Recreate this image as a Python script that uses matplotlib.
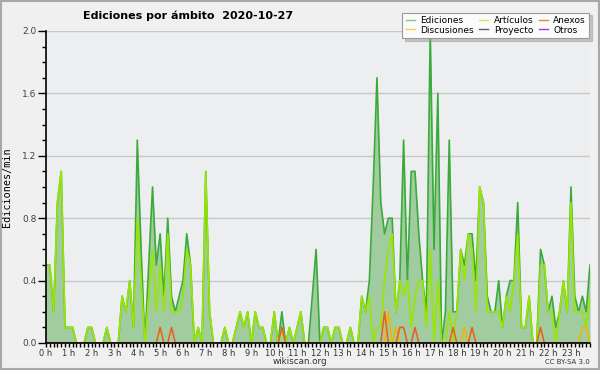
import matplotlib
matplotlib.use("Agg")
import matplotlib.pyplot as plt
from matplotlib.patches import Rectangle
from matplotlib.ticker import MultipleLocator, FixedLocator
import numpy as np

# ediciones por minuto, un valor cada 10 minutos (2 horas por fila)
ediciones = [
    0.5, 0.5, 0.2, 0.9, 1.1, 0.1, 0.1, 0.1, 0.0, 0.0, 0.0, 0.1,
    0.1, 0.0, 0.0, 0.0, 0.1, 0.0, 0.0, 0.0, 0.3, 0.2, 0.4, 0.1,
    1.3, 0.6, 0.0, 0.5, 1.0, 0.5, 0.7, 0.3, 0.8, 0.3, 0.2, 0.3,
    0.4, 0.7, 0.5, 0.0, 0.1, 0.0, 1.1, 0.2, 0.0, 0.0, 0.0, 0.1,
    0.0, 0.0, 0.1, 0.2, 0.1, 0.2, 0.0, 0.2, 0.1, 0.1, 0.0, 0.0,
    0.2, 0.0, 0.2, 0.0, 0.1, 0.0, 0.1, 0.2, 0.0, 0.0, 0.3, 0.6,
    0.0, 0.1, 0.1, 0.0, 0.1, 0.1, 0.0, 0.0, 0.1, 0.0, 0.0, 0.3,
    0.2, 0.4, 1.0, 1.7, 0.9, 0.7, 0.8, 0.8, 0.2, 0.4, 1.3, 0.4,
    1.1, 1.1, 0.7, 0.4, 0.2, 2.0, 0.6, 1.6, 0.0, 0.2, 1.3, 0.2,
    0.2, 0.6, 0.5, 0.7, 0.7, 0.4, 1.0, 0.9, 0.3, 0.2, 0.2, 0.4,
    0.1, 0.3, 0.4, 0.4, 0.9, 0.1, 0.1, 0.3, 0.0, 0.0, 0.6, 0.5,
    0.2, 0.3, 0.1, 0.2, 0.4, 0.2, 1.0, 0.3, 0.2, 0.3, 0.2, 0.5,
]
articulos = [
    0.5, 0.5, 0.2, 0.9, 1.1, 0.1, 0.1, 0.1, 0.0, 0.0, 0.0, 0.1,
    0.1, 0.0, 0.0, 0.0, 0.1, 0.0, 0.0, 0.0, 0.3, 0.2, 0.4, 0.1,
    0.8, 0.4, 0.0, 0.3, 0.6, 0.2, 0.5, 0.2, 0.7, 0.2, 0.2, 0.2,
    0.3, 0.6, 0.5, 0.0, 0.1, 0.0, 1.1, 0.2, 0.0, 0.0, 0.0, 0.1,
    0.0, 0.0, 0.1, 0.2, 0.1, 0.2, 0.0, 0.2, 0.1, 0.1, 0.0, 0.0,
    0.2, 0.0, 0.1, 0.0, 0.1, 0.0, 0.1, 0.2, 0.0, 0.0, 0.0, 0.0,
    0.0, 0.1, 0.1, 0.0, 0.1, 0.1, 0.0, 0.0, 0.1, 0.0, 0.0, 0.3,
    0.2, 0.3, 0.0, 0.1, 0.1, 0.4, 0.6, 0.7, 0.2, 0.4, 0.3, 0.4,
    0.1, 0.3, 0.4, 0.4, 0.1, 0.6, 0.0, 0.4, 0.0, 0.0, 0.2, 0.0,
    0.2, 0.6, 0.4, 0.7, 0.6, 0.2, 1.0, 0.9, 0.2, 0.2, 0.2, 0.2,
    0.1, 0.3, 0.2, 0.4, 0.7, 0.1, 0.1, 0.3, 0.0, 0.0, 0.5, 0.5,
    0.2, 0.2, 0.0, 0.2, 0.4, 0.2, 0.9, 0.2, 0.2, 0.2, 0.1, 0.3,
]
anexos = [
    0.0, 0.0, 0.0, 0.0, 0.0, 0.0, 0.0, 0.0, 0.0, 0.0, 0.0, 0.0,
    0.0, 0.0, 0.0, 0.0, 0.0, 0.0, 0.0, 0.0, 0.0, 0.0, 0.0, 0.0,
    0.0, 0.0, 0.0, 0.0, 0.0, 0.0, 0.1, 0.0, 0.0, 0.1, 0.0, 0.0,
    0.0, 0.0, 0.0, 0.0, 0.0, 0.0, 0.0, 0.0, 0.0, 0.0, 0.0, 0.0,
    0.0, 0.0, 0.0, 0.0, 0.0, 0.0, 0.0, 0.0, 0.0, 0.0, 0.0, 0.0,
    0.0, 0.0, 0.1, 0.0, 0.0, 0.0, 0.0, 0.0, 0.0, 0.0, 0.0, 0.0,
    0.0, 0.0, 0.0, 0.0, 0.0, 0.0, 0.0, 0.0, 0.0, 0.0, 0.0, 0.0,
    0.0, 0.0, 0.0, 0.0, 0.0, 0.2, 0.0, 0.0, 0.0, 0.1, 0.1, 0.0,
    0.0, 0.1, 0.0, 0.0, 0.0, 0.0, 0.0, 0.0, 0.0, 0.0, 0.0, 0.1,
    0.0, 0.0, 0.0, 0.0, 0.1, 0.0, 0.0, 0.0, 0.0, 0.0, 0.0, 0.0,
    0.0, 0.0, 0.0, 0.0, 0.0, 0.0, 0.0, 0.0, 0.0, 0.0, 0.1, 0.0,
    0.0, 0.0, 0.0, 0.0, 0.0, 0.0, 0.0, 0.0, 0.0, 0.0, 0.0, 0.0,
]
discusiones = [
    0.0, 0.0, 0.0, 0.0, 0.0, 0.0, 0.0, 0.0, 0.0, 0.0, 0.0, 0.0,
    0.0, 0.0, 0.0, 0.0, 0.0, 0.0, 0.0, 0.0, 0.0, 0.0, 0.0, 0.0,
    0.0, 0.0, 0.0, 0.0, 0.0, 0.0, 0.0, 0.0, 0.0, 0.0, 0.0, 0.0,
    0.0, 0.0, 0.0, 0.0, 0.0, 0.0, 0.0, 0.0, 0.0, 0.0, 0.0, 0.0,
    0.0, 0.0, 0.0, 0.0, 0.0, 0.0, 0.0, 0.0, 0.0, 0.0, 0.0, 0.0,
    0.0, 0.0, 0.0, 0.0, 0.0, 0.0, 0.0, 0.0, 0.0, 0.0, 0.0, 0.0,
    0.0, 0.0, 0.0, 0.0, 0.0, 0.0, 0.0, 0.0, 0.0, 0.0, 0.0, 0.0,
    0.0, 0.0, 0.0, 0.0, 0.0, 0.0, 0.2, 0.0, 0.1, 0.0, 0.0, 0.0,
    0.0, 0.0, 0.0, 0.0, 0.0, 0.0, 0.0, 0.0, 0.0, 0.0, 0.0, 0.0,
    0.0, 0.0, 0.1, 0.0, 0.0, 0.0, 0.0, 0.0, 0.0, 0.0, 0.0, 0.0,
    0.0, 0.0, 0.0, 0.0, 0.0, 0.0, 0.0, 0.0, 0.0, 0.0, 0.0, 0.0,
    0.0, 0.0, 0.0, 0.0, 0.0, 0.0, 0.0, 0.0, 0.0, 0.1, 0.1, 0.0,
]
proyecto = [0.0] * 144
otros = [0.0] * 144

horas = np.arange(len(ediciones)) / 6.0
etiquetas_x = [f"{h} h" for h in range(24)]

fig = plt.figure(figsize=(6, 3.7), dpi=100, facecolor="#f0f0f0")
fig.patches.append(Rectangle((0.0015, 0.0025), 0.997, 0.995, transform=fig.transFigure,
                             fill=False, edgecolor="#a8a8a8", linewidth=1.5))

ax = fig.add_axes([46/600, 27/370, 544/600, 312/370])
ax.set_facecolor("#eceef0")

ax.fill_between(horas, ediciones, color="#a0cca0", linewidth=0, zorder=1)
ax.plot(horas, ediciones, color="#3aaa3a", lw=1.2, zorder=2)
ax.plot(horas, articulos, color="#99e600", lw=1.2, zorder=2.1)
ax.plot(horas, proyecto, color="#606060", lw=1.0, zorder=2.1)
ax.plot(horas, otros, color="#9040e0", lw=1.0, zorder=2.1)
ax.plot(horas, discusiones, color="#f0b400", lw=1.1, zorder=2.2)
ax.plot(horas, anexos, color="#f05a1e", lw=1.1, zorder=2.3)

ax.set_xlim(0, horas[-1])
ax.set_ylim(0, 2.0)

ax.yaxis.set_major_locator(MultipleLocator(0.4))
ax.yaxis.set_minor_locator(MultipleLocator(0.1))
ax.set_yticklabels([f"{v:.1f}" for v in ax.get_yticks()])
ax.xaxis.set_major_locator(FixedLocator(range(24)))
ax.set_xticklabels(etiquetas_x)
ax.xaxis.set_minor_locator(MultipleLocator(1/6))

ax.tick_params(axis="y", which="major", length=6, width=1, direction="out",
               labelsize=6.5, labelcolor="#404040", pad=1)
ax.tick_params(axis="y", which="minor", length=3, width=1, direction="out")
ax.tick_params(axis="x", which="both", length=3, width=1, direction="out",
               labelsize=6, labelcolor="#333333", pad=1)

ax.grid(axis="y", which="major", color="#c8c8c8", lw=1)
ax.set_axisbelow(True)
for lado in ["top", "right"]:
    ax.spines[lado].set_visible(False)
ax.spines["left"].set_linewidth(1.2)
ax.spines["bottom"].set_linewidth(1.2)

ax.set_ylabel("Ediciones/min", fontsize=7.3, family="DejaVu Sans Mono", labelpad=7)

fig.text(188/600, 1 - 16/370, "Ediciones por ámbito  2020-10-27",
         ha="center", va="center", fontsize=8, fontweight="bold")
fig.text(300/600, 1 - 362/370, "wikiscan.org", ha="center", va="center",
         fontsize=6.3, color="#333333")
fig.text(590/600, 1 - 362/370, "CC BY-SA 3.0", ha="right", va="center",
         fontsize=5, color="#333333")

nombres = ["Ediciones", "Discusiones", "Artículos", "Proyecto", "Anexos", "Otros"]
colores = ["#80d080", "#f8d040", "#ccee55", "#606060", "#f08040", "#9040e0"]
manijas = [plt.Line2D([], [], color=c, lw=1) for c in colores]
leg = fig.legend(manijas, nombres, ncol=3, loc="upper right",
                 bbox_to_anchor=(594/600, 1 - 8/370), fontsize=6.5,
                 handlelength=1.0, handletextpad=0.6, columnspacing=0.6,
                 labelspacing=0.05, borderpad=0.4, fancybox=False,
                 shadow={"color": "#999999"}, framealpha=1,
                 facecolor="#fbfbfb", edgecolor="#999999")
leg.get_frame().set_linewidth(0.8)

fig.savefig("out.png", dpi=100, facecolor=fig.get_facecolor())
